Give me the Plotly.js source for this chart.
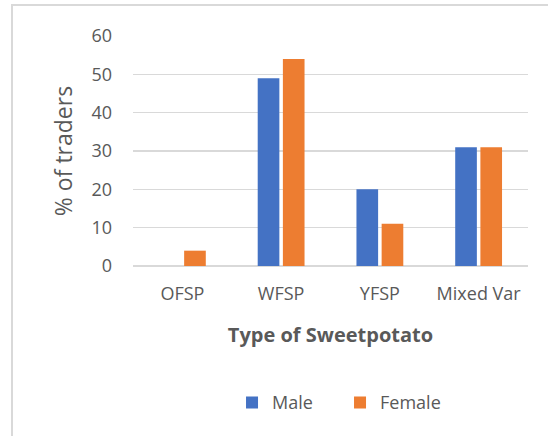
<!DOCTYPE html>
<html>
<head>
<meta charset="utf-8">
<script src="https://cdn.plot.ly/plotly-3.0.1.min.js"></script>
<style>
  html, body { margin: 0; padding: 0; background: #fff; overflow: hidden; }
  #chart { width: 548px; height: 436px; }
  #frame { position: absolute; left: 11px; top: 4px; width: 700px; height: 600px;
           border-left: 2px solid #d9d9d9; border-top: 2px solid #d9d9d9; pointer-events: none; }
</style>
</head>
<body>
<div id="chart"></div>
<div id="frame"></div>
<script>
const categories = ["OFSP", "WFSP", "YFSP", "Mixed Var"];
const maleValues = [0, 49, 20, 31];
const femaleValues = [4, 54, 11, 31];
const yTicks = [0, 10, 20, 30, 40, 50, 60];

const fontFam = '"Open Sans", "Noto Sans", sans-serif';
const traces = [
  { type: 'bar', name: 'Male', x: categories, y: maleValues,
    marker: { color: '#4472C4' }, hoverinfo: 'none' },
  { type: 'bar', name: 'Female', x: categories, y: femaleValues,
    marker: { color: '#ED7D31' }, hoverinfo: 'none' }
];

const layout = {
  width: 548, height: 436,
  margin: { l: 133, r: 20, t: 36, b: 170, autoexpand: false },
  paper_bgcolor: '#ffffff', plot_bgcolor: '#ffffff',
  barmode: 'group', bargap: 0.49, bargroupgap: 0.14,
  showlegend: true,
  legend: { orientation: 'h', x: 0.4234, xanchor: 'left', xref: 'container',
            y: 0.0764, yref: 'container', yanchor: 'middle',
            font: { family: fontFam, size: 18, color: '#595959' },
            itemwidth: 30, entrywidth: 63, entrywidthmode: 'pixels', tracegroupgap: 0 },
  xaxis: {
    type: 'category', automargin: false,
    showgrid: false, zeroline: false, showline: false,
    ticks: '', ticklabelstandoff: 15, tickangle: 0,
    tickfont: { family: fontFam, size: 18, color: '#595959' },
    title: { text: '<b>Type of Sweetpotato</b>', standoff: 23,
             font: { family: fontFam, size: 20, color: '#595959' } }
  },
  yaxis: {
    range: [0, 60], tickvals: yTicks, ticktext: yTicks.map(String), automargin: false,
    showgrid: true, gridcolor: '#d9d9d9', gridwidth: 1.5,
    zeroline: true, zerolinecolor: '#d9d9d9', zerolinewidth: 1.5,
    showline: false, ticks: '', ticklabelstandoff: 20,
    tickfont: { family: fontFam, size: 18, color: '#595959' },
    title: { text: '% of traders', standoff: 12,
             font: { family: fontFam, size: 23, color: '#595959' } }
  }
};

Plotly.newPlot('chart', traces, layout, { displayModeBar: false, staticPlot: true });
</script>
</body>
</html>
